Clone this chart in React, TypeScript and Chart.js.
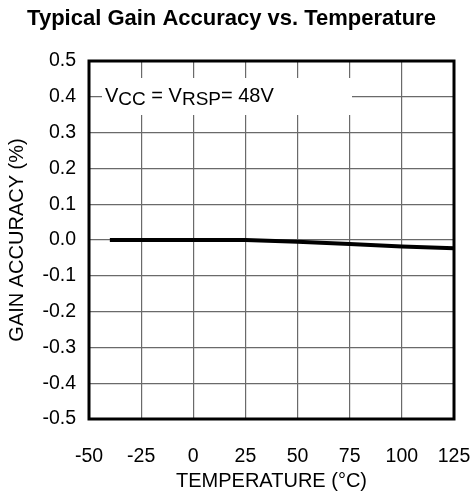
import React, { useEffect, useRef } from "react";
import { Chart, registerables } from "chart.js";

Chart.register(...registerables);

const chartTitle = "Typical Gain Accuracy vs. Temperature";
const xAxisTitle = "TEMPERATURE (°C)";
const yAxisTitle = "GAIN ACCURACY (%)";
const temperatures = [-40, -25, 0, 25, 50, 75, 100, 125];
const gainAccuracy = [0, 0, 0, 0, -0.005, -0.011, -0.018, -0.023];
const xMin = -50;
const xMax = 125;
const xStep = 25;
const yMin = -0.5;
const yMax = 0.5;
const yStep = 0.1;
// annotation text pieces: [text, isSubscript]
const annotationParts: [string, boolean][] = [
  ["V", false],
  ["CC", true],
  [" = V", false],
  ["RSP", true],
  ["= 48V", false],
];

const FONT = "'Liberation Sans', Arial, Helvetica, sans-serif";

const framePlugin = {
  id: "frameAndNote",
  beforeDatasetsDraw(chart: any) {
    const { ctx, chartArea } = chart;
    ctx.save();
    // white box behind the annotation
    const bx = chartArea.left + 13;
    const by = chartArea.top + 17;
    ctx.fillStyle = "#ffffff";
    ctx.fillRect(bx, by, 250, 37);
    // annotation text
    let x = chartArea.left + 16;
    const baseY = chartArea.top + 41;
    ctx.fillStyle = "#000000";
    ctx.textBaseline = "alphabetic";
    ctx.textAlign = "left";
    for (const [txt, sub] of annotationParts) {
      ctx.font = sub ? `19px ${FONT}` : `20px ${FONT}`;
      ctx.fillText(txt, x, sub ? baseY + 3 : baseY);
      x += ctx.measureText(txt).width;
    }
    ctx.restore();
  },
  afterDatasetsDraw(chart: any) {
    const { ctx, chartArea } = chart;
    ctx.save();
    ctx.strokeStyle = "#000000";
    ctx.lineWidth = 3;
    ctx.strokeRect(
      chartArea.left,
      chartArea.top,
      chartArea.right - chartArea.left,
      chartArea.bottom - chartArea.top
    );
    ctx.restore();
  },
};

export default function App() {
  const canvasRef = useRef<HTMLCanvasElement | null>(null);

  useEffect(() => {
    if (!canvasRef.current) return;
    const chart = new Chart(canvasRef.current, {
      type: "line",
      data: {
        datasets: [
          {
            data: temperatures.map((t, i) => ({ x: t, y: gainAccuracy[i] })),
            borderColor: "#000000",
            borderWidth: 4,
            pointRadius: 0,
            tension: 0,
            fill: false,
          },
        ],
      },
      options: {
        responsive: false,
        animation: false,
        devicePixelRatio: 1,
        layout: { padding: { left: 9, right: 18, top: 0, bottom: 0 } },
        plugins: {
          legend: { display: false },
          tooltip: { enabled: false },
          title: {
            display: true,
            text: chartTitle,
            color: "#000000",
            font: { family: FONT, size: 22, weight: "bold", lineHeight: 1.2 },
            padding: { top: 6, bottom: 28.6 },
          },
        },
        scales: {
          x: {
            type: "linear",
            min: xMin,
            max: xMax,
            afterFit: (scale: any) => {
              scale.height = 74;
              scale.paddingLeft = 0;
              scale.paddingRight = 0;
            },
            ticks: {
              stepSize: xStep,
              color: "#000000",
              padding: 26,
              maxRotation: 0,
              font: { family: FONT, size: 19.5 },
            },
            grid: { color: "#6a6a6a", lineWidth: 1.2, drawTicks: false },
            border: { display: false },
            title: {
              display: true,
              text: xAxisTitle,
              color: "#000000",
              font: { family: FONT, size: 20, lineHeight: 1.2 },
              padding: { top: 0, bottom: 0 },
            },
          },
          y: {
            min: yMin,
            max: yMax,
            afterFit: (scale: any) => {
              scale.width = 80;
            },
            ticks: {
              stepSize: yStep,
              color: "#000000",
              padding: 13,
              font: { family: FONT, size: 19.5 },
              callback: (v: any) => (Math.round(Number(v) * 10) / 10).toFixed(1),
            },
            grid: { color: "#6a6a6a", lineWidth: 1.2, drawTicks: false },
            border: { display: false },
            title: {
              display: true,
              text: yAxisTitle,
              color: "#000000",
              font: { family: FONT, size: 20, lineHeight: 0.85 },
              padding: { top: 0, bottom: 0 },
            },
          },
        },
      },
      plugins: [framePlugin],
    });
    return () => chart.destroy();
  }, []);

  return (
    <div style={{ position: "absolute", left: 0, top: 0, width: 472, height: 493, background: "#fff" }}>
      <canvas ref={canvasRef} width={472} height={493} />
    </div>
  );
}
